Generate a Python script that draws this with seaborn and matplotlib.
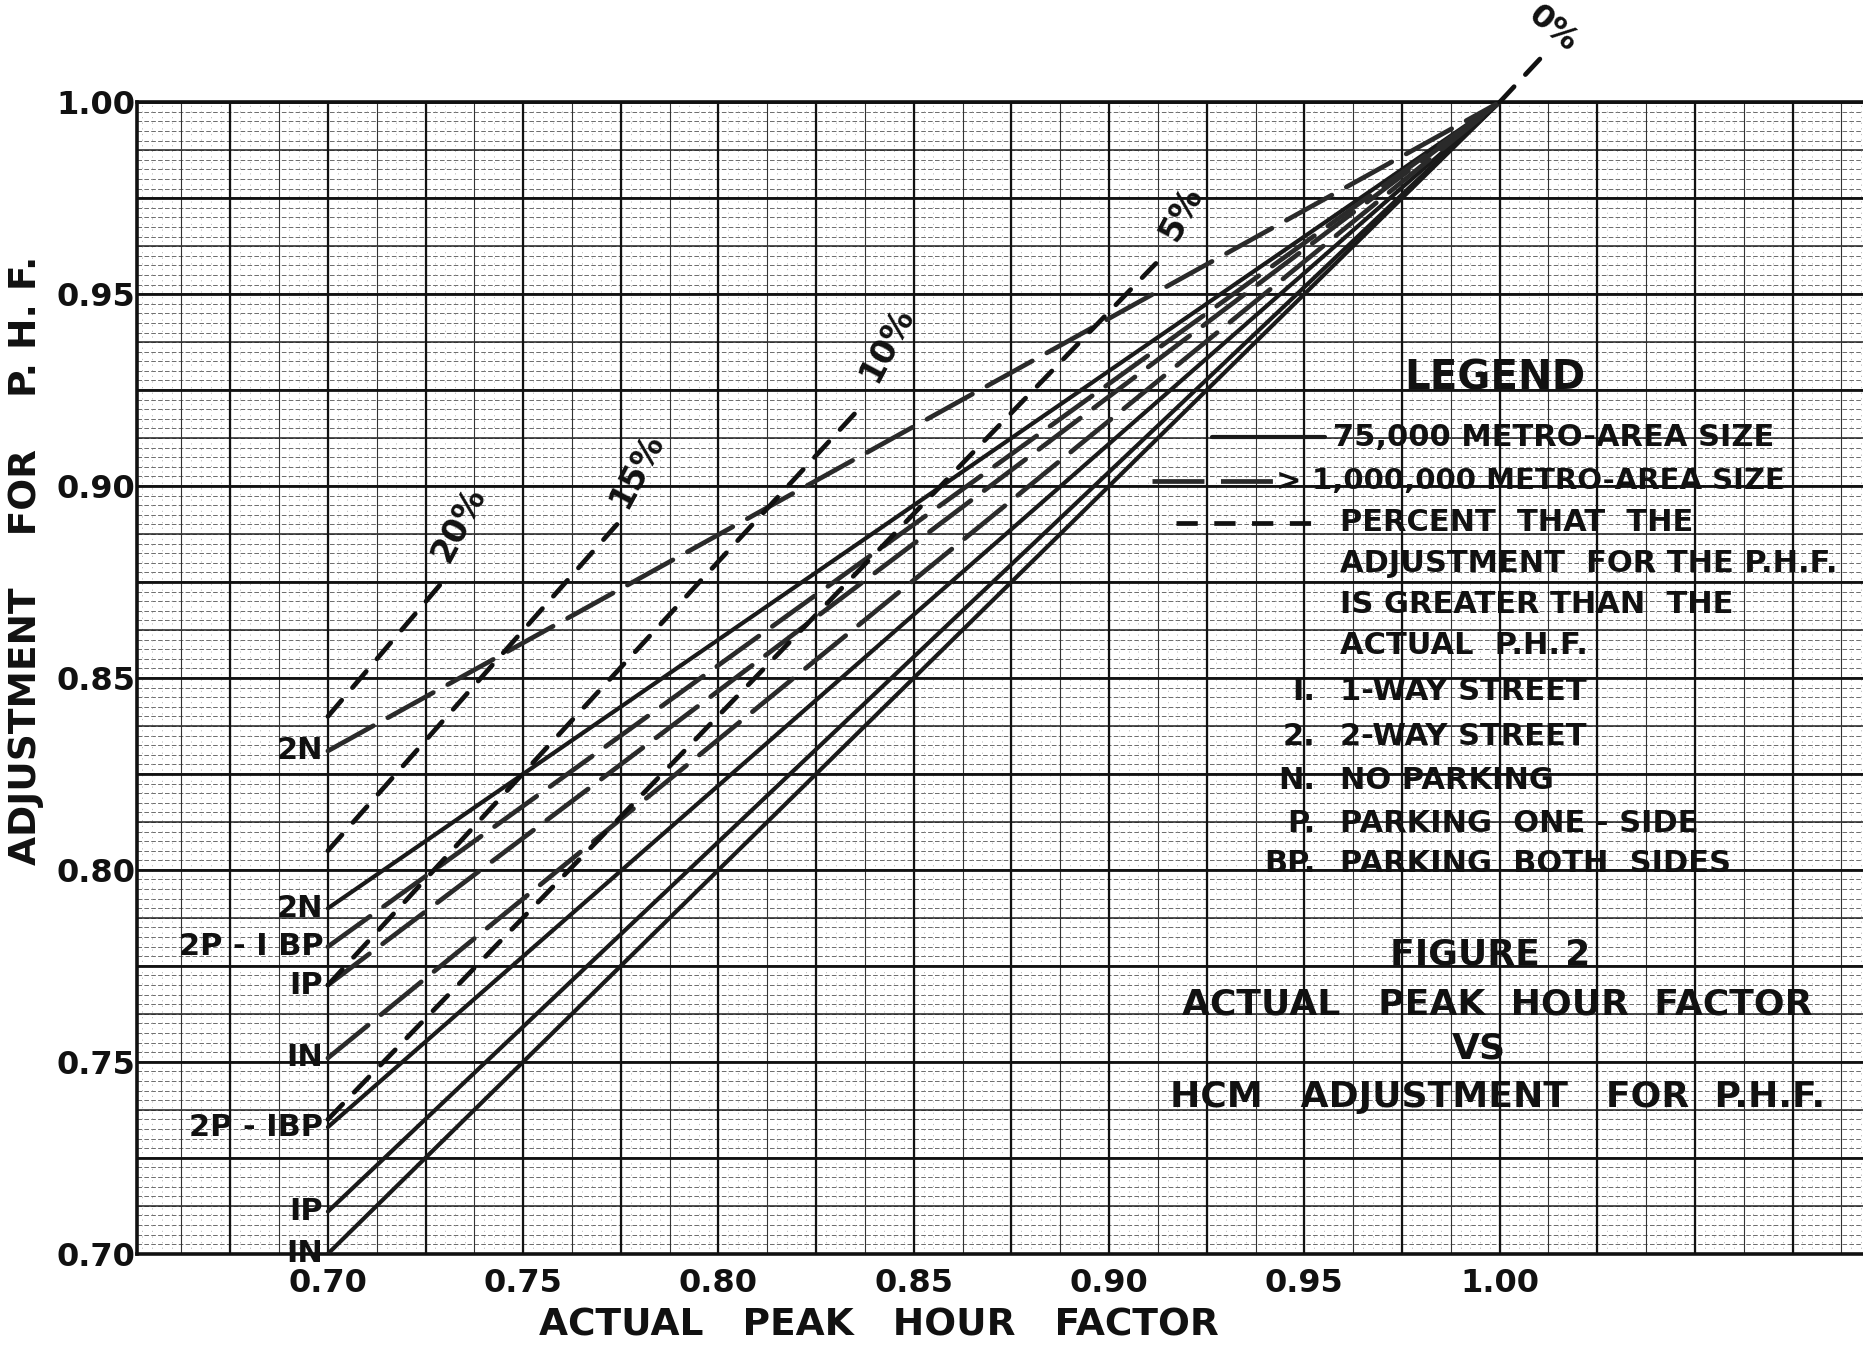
import numpy as np
import pandas as pd
import matplotlib
matplotlib.use("Agg")
import matplotlib.pyplot as plt
import seaborn as sns

# ---------------- data ----------------
start_x = 0.70
end_x = 1.00
end_y = 1.00
labels_75k = ["2N", "2P - IBP", "IP", "IN"]
adj_75k = [0.790, 0.733, 0.711, 0.700]
labels_1m = ["2N", "2P - I BP", "IP", "IN"]
adj_1m = [0.831, 0.780, 0.770, 0.751]

pct_labels = ["5%", "10%", "15%", "20%"]
pct_y_start = [0.735, 0.770, 0.805, 0.840]
pct_x_end = [0.912, 0.835, 0.774, 0.731]
pct_y_end = [0.958, 0.919, 0.890, 0.877]
pct_label_x = [0.9186, 0.843, 0.779, 0.7335]
pct_label_y = [0.971, 0.937, 0.904, 0.890]
zero_x = [1.000, 1.011]
zero_y = [1.000, 1.012]
zero_label = "0%"

x_ticks = [0.70, 0.75, 0.80, 0.85, 0.90, 0.95, 1.00]
y_ticks = [0.70, 0.75, 0.80, 0.85, 0.90, 0.95, 1.00]

# ---------------- style ----------------
sns.set_style("white")
plt.rcParams["font.family"] = ["DejaVu Sans"]
BOLD = "bold"
INK = "#111111"

fig = plt.figure(figsize=(18.63, 13.5), dpi=100)
ax = fig.add_axes([0.0733, 0.0713, 0.935, 0.853])
ax.set_xlim(0.651, 1.097)
ax.set_ylim(0.70, 1.00)

# graph-paper grid
for v in np.arange(0.70, 1.0001, 0.0025):
    ax.axhline(v, color="#444444", lw=0.55, ls=(0, (6, 3)), zorder=0)
for v in np.arange(0.70, 1.0001, 0.0125):
    ax.axhline(v, color="#222222", lw=1.1, zorder=0.5)
for v in np.arange(0.70, 1.0001, 0.025):
    ax.axhline(v, color="#111111", lw=2.0, zorder=0.6)
for v in np.arange(0.65, 1.10, 0.0025):
    ax.axvline(v, color="#a0a0a0", lw=0.45, ls=(0, (2, 7)), zorder=0)
for v in np.arange(0.6625, 1.10, 0.0125):
    ax.axvline(v, color="#333333", lw=0.8, zorder=0.5)
for v in np.arange(0.675, 1.10, 0.025):
    ax.axvline(v, color="#111111", lw=1.6, zorder=0.6)

# ---------------- data lines ----------------
def draw(xs, ys, color, lw, dashes=None, clip=True, z=3):
    sns.lineplot(x=xs, y=ys, ax=ax, color=color, lw=lw, sort=False,
                 estimator=None, legend=False, zorder=z)
    ln = ax.lines[-1]
    if dashes is not None:
        ln.set_dashes(dashes)
    ln.set_solid_capstyle("round")
    ln.set_dash_capstyle("round")
    ln.set_clip_on(clip)
    return ln

# 75,000 metro-area lines (solid)
for lab, y0 in zip(labels_75k, adj_75k):
    draw([start_x, end_x], [y0, end_y], "#1a1a1a", 3.0)

# 1,000,000 metro-area lines (long dashes)
for lab, y0 in zip(labels_1m, adj_1m):
    draw([start_x, end_x], [y0, end_y], "#2a2a2a", 3.4, dashes=(11, 3.5))

# percent lines (short dashes)
for lab, y0, x1, y1, lx, ly in zip(pct_labels, pct_y_start, pct_x_end,
                                   pct_y_end, pct_label_x, pct_label_y):
    draw([start_x, x1], [y0, y1], INK, 3.4, dashes=(4.5, 3.5))
    ax.text(lx, ly, lab, rotation=62, ha="center", va="center",
            fontsize=24, fontweight=BOLD, color=INK, zorder=5)

draw(zero_x, zero_y, INK, 3.4, dashes=(4.5, 3.5), clip=False)
ax.text(1.0135, 1.019, zero_label, rotation=-40, ha="center", va="center",
        fontsize=23, fontweight=BOLD, color=INK, zorder=5, clip_on=False)

# line labels at the left end of each line
for lab, y0 in zip(labels_1m + labels_75k, adj_1m + adj_75k):
    ax.text(start_x - 0.0012, y0, lab, ha="right", va="center",
            fontsize=22, fontweight=BOLD, color=INK, zorder=5)

# ---------------- axes ----------------
ax.set_xticks(x_ticks)
ax.set_xticklabels([f"{t:.2f}" for t in x_ticks], fontsize=23,
                   fontweight=BOLD, color=INK)
ax.set_yticks(y_ticks)
ax.set_yticklabels([f"{t:.2f}" for t in y_ticks], fontsize=23,
                   fontweight=BOLD, color=INK)
ax.tick_params(axis="x", length=0, pad=10)
ax.tick_params(axis="y", length=0, pad=1)
for s in ["left", "bottom", "top"]:
    ax.spines[s].set_linewidth(2.6)
    ax.spines[s].set_color(INK)
ax.spines["right"].set_visible(False)

fig.text(0.472, 0.018, "ACTUAL   PEAK   HOUR   FACTOR", ha="center",
         va="center", fontsize=27, fontweight=BOLD, color=INK)
fig.text(0.014, 0.585, "ADJUSTMENT    FOR    P. H. F.", rotation=90,
         ha="center", va="center", fontsize=27, fontweight=BOLD, color=INK)

# ---------------- legend block ----------------
def fline(x0, x1, y, lw, color, dashes=None, z=6):
    ln = plt.Line2D([x0, x1], [y, y], transform=fig.transFigure, lw=lw,
                    color=color, zorder=z)
    if dashes is not None:
        ln.set_dashes(dashes)
    fig.add_artist(ln)

fs_leg = 22
fig.text(0.8023, 0.720, "LEGEND", ha="center", va="center", fontsize=29,
         fontweight=BOLD, color=INK)
fline(0.6505, 0.711, 0.676, 3.0, "#1a1a1a")
fig.text(0.7156, 0.676, "75,000 METRO-AREA SIZE", ha="left", va="center",
         fontsize=fs_leg, fontweight=BOLD, color=INK)
fline(0.6186, 0.6840, 0.6435, 3.4, "#2a2a2a", dashes=(11, 3.5))
fig.text(0.6850, 0.6435, ">", ha="left", va="center", fontsize=fs_leg,
         fontweight=BOLD, color=INK)
fig.text(0.7040, 0.6435, "1,000,000 METRO-AREA SIZE", ha="left",
         va="center", fontsize=21, fontweight=BOLD, color=INK)
fline(0.631, 0.711, 0.6127, 3.4, INK, dashes=(4.5, 3.5))
pct_text = ["PERCENT  THAT  THE", "ADJUSTMENT  FOR THE P.H.F.",
            "IS GREATER THAN  THE", "ACTUAL  P.H.F."]
for i, t in enumerate(pct_text):
    fig.text(0.7194, 0.6127 - 0.0302 * i, t, ha="left", va="center",
             fontsize=fs_leg, fontweight=BOLD, color=INK)
keys = ["I.", "2.", "N.", "P.", "BP."]
defs = ["1-WAY STREET", "2-WAY STREET", "NO PARKING",
        "PARKING  ONE - SIDE", "PARKING  BOTH  SIDES"]
key_y = [0.4877, 0.4542, 0.4217, 0.390, 0.360]
for k, d, y in zip(keys, defs, key_y):
    fig.text(0.7060, y, k, ha="right", va="center", fontsize=fs_leg,
             fontweight=BOLD, color=INK)
    fig.text(0.7194, y, d, ha="left", va="center", fontsize=fs_leg,
             fontweight=BOLD, color=INK)

title_lines = ["FIGURE  2", "ACTUAL   PEAK  HOUR  FACTOR", "VS",
               "HCM   ADJUSTMENT   FOR  P.H.F."]
title_x = [0.800, 0.8036, 0.794, 0.8036]
title_y = [0.2931, 0.2562, 0.2236, 0.1875]
for t, x, y in zip(title_lines, title_x, title_y):
    fig.text(x, y, t, ha="center", va="center", fontsize=26,
             fontweight=BOLD, color=INK)

fig.savefig("out.png", dpi=100, facecolor="white")
